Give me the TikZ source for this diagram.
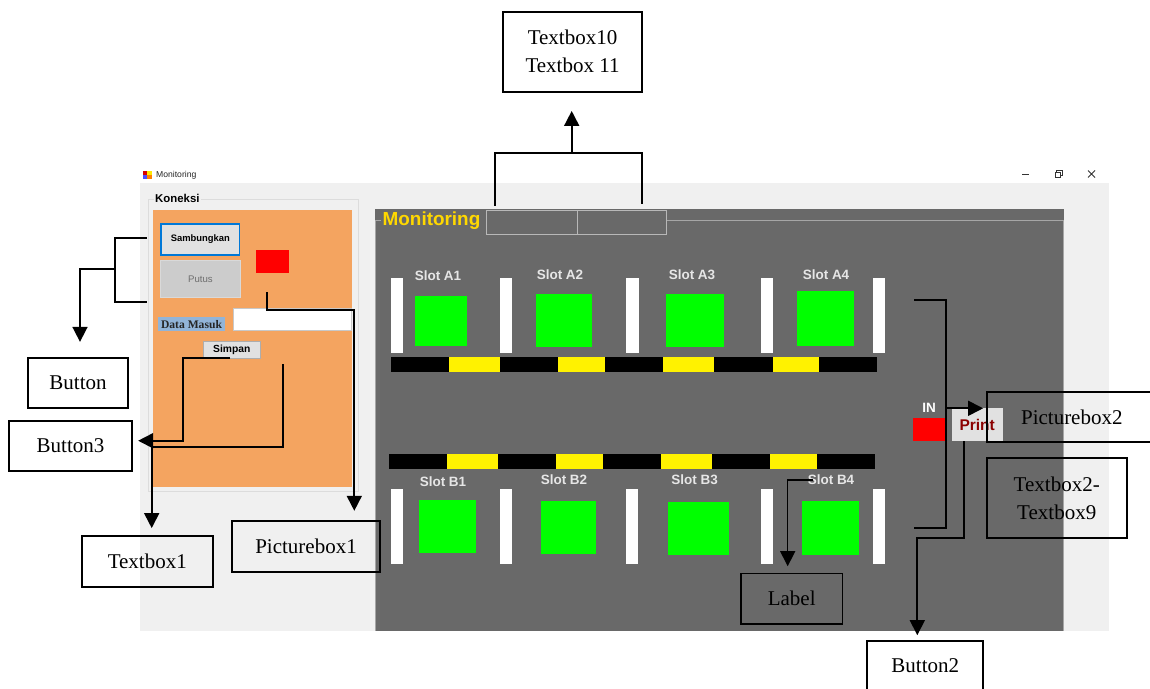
\documentclass[tikz,border=0pt]{standalone}
\usepackage{fontspec}
\setmainfont{Liberation Serif}
\setsansfont{Liberation Sans}
\usetikzlibrary{arrows.meta}
\definecolor{winbg}{HTML}{F0F0F0}
\definecolor{orangep}{HTML}{F4A460}
\definecolor{panelg}{HTML}{696969}
\definecolor{slotg}{HTML}{00FF00}
\definecolor{btnbg}{HTML}{E1E1E1}
\definecolor{btnblue}{HTML}{0078D7}
\definecolor{putusbg}{HTML}{CCCCCC}
\definecolor{putusbd}{HTML}{D9D9D9}
\definecolor{putustx}{HTML}{6D6D6D}
\definecolor{lblblue}{HTML}{92B4D8}
\definecolor{goldy}{HTML}{FFD800}
\definecolor{slottx}{HTML}{E6E6E6}
\definecolor{darkred}{HTML}{8B0000}
\definecolor{grpline}{HTML}{DCDCDC}
\definecolor{tbline}{HTML}{B8B8B8}
\definecolor{tbbd}{HTML}{C8C8C8}
\definecolor{simbd}{HTML}{ADADAD}
\definecolor{monline}{HTML}{A6A6A6}
\begin{document}
\begin{tikzpicture}[x=1pt,y=-1pt,
  ann/.style={draw=black, line width=1.7pt, inner sep=0pt, align=center, font=\fontsize{21}{28}\selectfont},
  con/.style={line width=1.7pt, draw=black},
  arr/.style={con, -{Triangle[length=15pt,width=15pt]}},
  uib/.style={font=\sffamily\bfseries, inner sep=0pt},
  slotlbl/.style={font=\sffamily\bfseries\fontsize{13.5}{16}\selectfont, text=slottx, inner sep=0pt}]
\useasboundingbox (0,0) rectangle (1150,688);
\fill[white] (0,0) rectangle (1150,688);
% ---------- window frame ----------
\fill[red!85!black] (142.7,171) rectangle (147.3,175);
\fill[yellow!90!orange] (147.3,171) rectangle (152,175);
\fill[blue!70] (142.7,175) rectangle (147.3,179);
\fill[orange] (147.3,175) rectangle (152,179);
\node[anchor=west, inner sep=0pt, font=\sffamily\fontsize{8.6}{10}\selectfont, text=black!85] (title) at (156,175.5) {Monitoring};
\draw[line width=0.8pt, black!80] (1022,174.5) -- (1029,174.5);
\draw[line width=0.8pt, black!80] (1055,172.5) rectangle (1060,177.5);
\draw[line width=0.8pt, black!80] (1056.8,172.5) -- (1056.8,170.7) -- (1062,170.7) -- (1062,175.8) -- (1060,175.8);
\draw[line width=0.8pt, black!80] (1088,170.5) -- (1095,177.5) (1088,177.5) -- (1095,170.5);
\fill[winbg] (140,183.3) rectangle (1109,630.7);
% ---------- Koneksi group ----------
\draw[grpline, line width=1pt] (148.3,199) rectangle (358.3,491);
\fill[orangep] (152.7,210) rectangle (352.3,486.7);
\node[uib, anchor=west, fill=winbg, inner xsep=1.5pt, inner ysep=1pt, font=\sffamily\bfseries\fontsize{11.4}{13}\selectfont] (kon) at (153.5,198.5) {Koneksi};
\draw[btnblue, fill=btnbg, line width=1.5pt] (161,224) rectangle (239.7,255);
\node[uib, font=\sffamily\bfseries\fontsize{9.4}{11}\selectfont] (samb) at (200.4,239.5) {Sambungkan};
\draw[putusbd, fill=putusbg, line width=0.8pt] (160.3,260) rectangle (240.7,297.3);
\node[inner sep=0pt, font=\sffamily\fontsize{9.6}{11}\selectfont, text=putustx] (putus) at (200.5,279) {Putus};
\fill[red] (255.7,250) rectangle (289,273.3);
\fill[lblblue] (157.7,317.3) rectangle (225.3,331);
\node[inner sep=0pt, font=\bfseries\fontsize{11.6}{13}\selectfont, text=black!85] (dm) at (191.5,324.5) {Data Masuk};
\draw[tbbd, fill=white, line width=0.8pt] (233.3,308.3) rectangle (351,330.7);
\draw[simbd, fill=btnbg, line width=0.8pt] (203.3,341.7) rectangle (260.3,358);
\node[uib, font=\sffamily\bfseries\fontsize{10.3}{12}\selectfont] (simp) at (231.8,349.8) {Simpan};
% ---------- Monitoring panel ----------
\fill[panelg] (375,209) rectangle (1063.5,630.7);
\draw[monline, line width=0.9pt] (381,220) -- (375.8,220) -- (375.8,630.7);
\draw[monline, line width=0.9pt] (666.3,220) -- (1063.5,220) -- (1063.5,630.7);
\node[uib, anchor=west, text=goldy, font=\sffamily\bfseries\fontsize{18.9}{22}\selectfont] (mon) at (382.5,220.5) {Monitoring};
\draw[tbline, line width=0.9pt] (486.3,210) rectangle (577.3,234.3);
\draw[tbline, line width=0.9pt] (577.3,210) rectangle (666.3,234.3);
% slot bars row A
\foreach \xa/\xb in {390.7/403,500/511.7,626/638.7,761/773,872.7/885}
  \fill[white] (\xa,277.7) rectangle (\xb,353);
\fill[slotg] (414.7,296) rectangle (467,345.7);
\fill[slotg] (535.7,294) rectangle (591.7,347);
\fill[slotg] (666,294) rectangle (724,347);
\fill[slotg] (797,291) rectangle (854.3,346);
\node[slotlbl] (sa1) at (438,275.5) {Slot A1};
\node[slotlbl] (sa2) at (560,275) {Slot A2};
\node[slotlbl] (sa3) at (692,275) {Slot A3};
\node[slotlbl] (sa4) at (826,275) {Slot A4};
\fill[black] (390.7,357) rectangle (877,372);
\foreach \xa/\xb in {449/500,557.7/605,663/714.3,773/818.7}
  \fill[yellow] (\xa,357) rectangle (\xb,372);
% row B
\fill[black] (388.7,454) rectangle (875,468.7);
\foreach \xa/\xb in {447/498,555.7/602.7,661/712.3,770.3/816.7}
  \fill[yellow] (\xa,454) rectangle (\xb,468.7);
\foreach \xa/\xb in {390.7/403,500/512,626/638,761/773,873/885}
  \fill[white] (\xa,488.7) rectangle (\xb,563.7);
\fill[slotg] (419,500) rectangle (475.7,553);
\fill[slotg] (540.7,501) rectangle (596.3,554);
\fill[slotg] (667.7,501.7) rectangle (728.7,554.7);
\fill[slotg] (802.3,501.3) rectangle (859,554.7);
\node[slotlbl] (sb1) at (443,482) {Slot B1};
\node[slotlbl] (sb2) at (564,480) {Slot B2};
\node[slotlbl] (sb3) at (694.7,480) {Slot B3};
\node[slotlbl] (sb4) at (831,480) {Slot B4};
% IN / Print
\node[uib, text=white, font=\sffamily\bfseries\fontsize{13.5}{15}\selectfont] (inlbl) at (929,408) {IN};
\fill[red] (913.3,417.7) rectangle (945,441);
\fill[btnbg] (951.7,407.7) rectangle (1002.7,440.7);
\node[uib, text=darkred, font=\sffamily\bfseries\fontsize{15.5}{17}\selectfont] (print) at (977.2,425) {Print};
% ---------- annotation boxes ----------
\node[ann, minimum width=139.6pt, minimum height=80pt] (tb10) at (572.5,51.7) {Textbox10\\Textbox 11};
\node[ann, minimum width=100.6pt, minimum height=50.6pt] (btn) at (78,383) {Button};
\node[ann, minimum width=122.4pt, minimum height=50.6pt] (btn3) at (70.5,446) {Button3};
\node[ann, minimum width=130.7pt, minimum height=50.7pt] (tb1) at (147.3,561.3) {Textbox1};
\node[ann, minimum width=148pt, minimum height=50.7pt] (pb1) at (306,546.3) {Picturebox1};
\node[ann, minimum width=170.3pt, minimum height=50.6pt] (pb2) at (1071.8,417) {Picturebox2};
\node[ann, minimum width=140pt, minimum height=80pt] (tb29) at (1056.7,498.3) {Textbox2-\\Textbox9};
\node[ann, minimum width=101.3pt, minimum height=50.7pt] (lbl) at (791.7,598.7) {Label};
\node[ann, minimum width=116pt, minimum height=50pt] (btn2) at (925.3,666) {Button2};
% ---------- connectors ----------
\coordinate (thl) at (495.3,205.7);
\coordinate (thr) at (642,204);
\coordinate (tmid) at (571.7,153.3);
\draw[con] (thl) |- (tmid) -| (thr);
\draw[arr, shorten >=18.4pt] (tmid) -- (tmid |- tb10.south);
\coordinate (bsa) at (146.7,238.3);
\coordinate (bpu) at (146.7,301.7);
\coordinate (bmid) at (115,269);
\draw[con] (bsa) -| (bmid) |- (bpu);
\coordinate (bdn) at (80,269);
\draw[arr, shorten >=15pt] (bmid) -- (bdn) -- (bdn |- btn.north);
\coordinate (pbs) at (266.7,292.3);
\coordinate (pbj) at (354.3,310);
\draw[arr, shorten >=9.3pt] (pbs) |- (pbj) -- (pbj |- pb1.north);
\coordinate (sms) at (230,357.7);
\coordinate (smj) at (182.7,440.7);
\draw[arr, shorten >=5.6pt] (sms) -| (smj) -- (smj -| btn3.east);
\coordinate (t1s) at (282.7,364.3);
\coordinate (t1j) at (151.7,446.7);
\draw[arr, shorten >=7pt] (t1s) |- (t1j) -- (t1j |- tb1.north);
\coordinate (sra) at (914,300);
\coordinate (srb) at (914,528);
\coordinate (srv) at (946,408.3);
\draw[con] (sra) -| (srv) |- (srb);
\draw[arr, shorten >=2.7pt] (srv) -- (srv -| pb2.west);
\coordinate (prs) at (964.3,441);
\coordinate (prj) at (917.3,538.3);
\draw[arr, shorten >=5pt] (prs) |- (prj) -- (prj |- btn2.north);
\coordinate (lbs) at (813,480);
\coordinate (lbj) at (787.7,480);
\draw[arr, line width=1.4pt, shorten >=6.3pt] (lbs) -- (lbj) -- (lbj |- lbl.north);
\end{tikzpicture}
\end{document}
